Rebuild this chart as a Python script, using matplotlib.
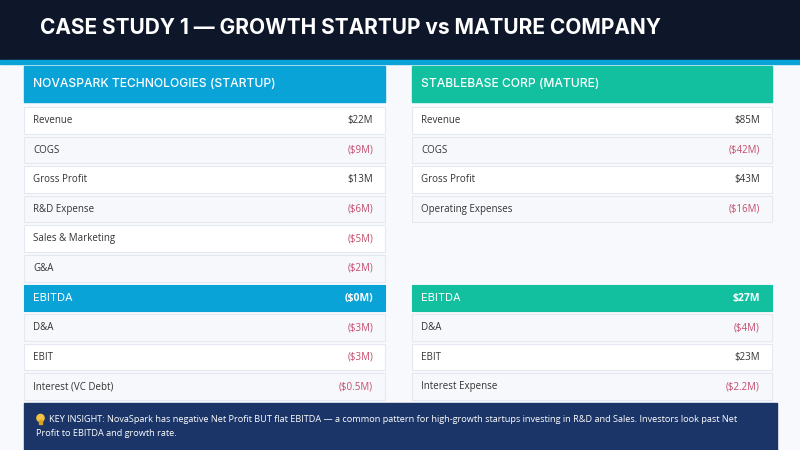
import matplotlib.pyplot as plt
from matplotlib.patches import Rectangle, Circle

# ---- data ----
TITLE = "CASE STUDY 1 \u2014 GROWTH STARTUP vs MATURE COMPANY"
startup_name = "NOVASPARK TECHNOLOGIES (STARTUP)"
mature_name = "STABLEBASE CORP (MATURE)"

startup_labels = ["Revenue", "COGS", "Gross Profit", "R&D Expense", "Sales & Marketing",
                  "G&A", "EBITDA", "D&A", "EBIT", "Interest (VC Debt)"]
startup_values = ["$22M", "($9M)", "$13M", "($6M)", "($5M)",
                  "($2M)", "($0M)", "($3M)", "($3M)", "($0.5M)"]

mature_labels = ["Revenue", "COGS", "Gross Profit", "Operating Expenses", None,
                 None, "EBITDA", "D&A", "EBIT", "Interest Expense"]
mature_values = ["$85M", "($42M)", "$43M", "($16M)", None,
                 None, "$27M", "($4M)", "$23M", "($2.2M)"]

insight_lines = [
    "KEY INSIGHT: NovaSpark has negative Net Profit BUT flat EBITDA \u2014 a common pattern for "
    "high-growth startups investing in R&D and Sales. Investors look past Net",
    "Profit to EBITDA and growth rate.",
]

# ---- style ----
BG = "#f8f9fd"
NAVY = "#0e1629"
CYAN = "#0aa3d8"
TEAL = "#12bf9f"
BOX = "#1b3568"
NEG = "#c44d6b"
TXT = "#333333"
HEAD_FONT = ["Inter", "DejaVu Sans"]
BODY_FONT = ["Open Sans", "DejaVu Sans"]

fig = plt.figure(figsize=(8, 4.5), dpi=100, facecolor=BG)
ax = fig.add_axes([0, 0, 1, 1])
ax.set_xlim(0, 800)
ax.set_ylim(450, 0)
ax.axis("off")

# title band
ax.add_patch(Rectangle((0, 0), 800, 60, color=NAVY, zorder=1))
ax.add_patch(Rectangle((0, 60), 800, 3.5, color=CYAN, zorder=1))
ax.text(40, 28, TITLE, color="white", fontsize=15, fontweight="bold",
        family=HEAD_FONT, va="center", ha="left")


def draw_card(x0, x1, name, color, labels, values):
    ax.add_patch(Rectangle((x0, 66), x1 - x0, 36, color=color, zorder=2))
    ax.text(x0 + 9, 84, name, color="white", fontsize=8.7, family=HEAD_FONT,
            fontweight="medium", va="center")
    for i, (lab, val) in enumerate(zip(labels, values)):
        top = 107 + i * 29.6
        if lab is None:
            continue
        highlight = lab == "EBITDA"
        if highlight:
            face, edge = color, color
        else:
            face = "white" if i % 2 == 0 else "#f7f8fc"
            edge = "#e4e8f0"
        ax.add_patch(Rectangle((x0, top), x1 - x0, 26.5, facecolor=face,
                               edgecolor=edge, linewidth=0.8, zorder=2))
        cy = top + 13.5
        if highlight:
            ax.text(x0 + 9, cy, lab, color="white", fontsize=8, family=HEAD_FONT,
                    va="center", zorder=3)
            ax.text(x1 - 12, cy, val, color="white", fontsize=7.5, family=BODY_FONT,
                    fontweight="bold", va="center", ha="right", zorder=3)
        else:
            ax.text(x0 + 9, cy, lab, color=TXT, fontsize=7, family=BODY_FONT,
                    va="center", zorder=3)
            vcol = NEG if val.startswith("(") else TXT
            ax.text(x1 - 12, cy, val, color=vcol, fontsize=7, family=BODY_FONT,
                    va="center", ha="right", zorder=3)


draw_card(24, 385, startup_name, CYAN, startup_labels, startup_values)
draw_card(412, 772, mature_name, TEAL, mature_labels, mature_values)

# insight box
ax.add_patch(Rectangle((24, 403), 753, 47, color=BOX, zorder=4))
# small light-bulb mark
ax.add_patch(Circle((40.5, 418), 3.6, color="#f5c242", zorder=5))
ax.add_patch(Rectangle((38.8, 420), 3.4, 3.5, color="#d9a520", zorder=5))
ax.text(49, 420, insight_lines[0], color="white", fontsize=6.6, family=BODY_FONT,
        va="center", zorder=5)
ax.text(36, 433.5, insight_lines[1], color="white", fontsize=6.6, family=BODY_FONT,
        va="center", zorder=5)

fig.savefig("out.png", dpi=100, facecolor=BG)
